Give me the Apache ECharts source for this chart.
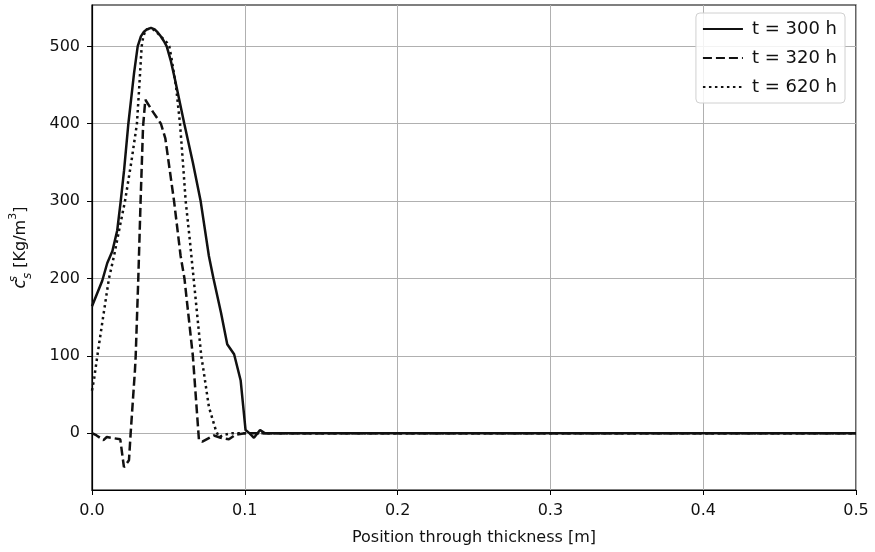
<!DOCTYPE html>
<html>
<head>
<meta charset="utf-8">
<script src="https://cdn.jsdelivr.net/npm/echarts@6/dist/echarts.min.js"></script>
<style>
  html, body { margin: 0; padding: 0; background: #fff; }
  #chart { width: 875px; height: 552px; }
</style>
</head>
<body>
<div id="chart"></div>
<script>
// legend names
const seriesNames = ["t = 300 h", "t = 320 h", "t = 620 h"];

// t = 300 h  (position [m], concentration [Kg/m3])
const pos300 = [0, 0.0067, 0.010, 0.0133, 0.0165, 0.0188, 0.021, 0.0238, 0.0255, 0.0275, 0.0299, 0.032,
  0.034, 0.036, 0.0386, 0.041, 0.043, 0.045, 0.047, 0.0489, 0.0515, 0.054, 0.057, 0.0604, 0.066,
  0.0711, 0.0765, 0.0795, 0.0845, 0.0885, 0.093, 0.0973, 0.1005, 0.103, 0.106, 0.110, 0.113, 0.12, 0.5];
const val300 = [164, 197, 220, 235, 262, 300, 340, 400, 430, 465, 500, 513,
  519, 522, 524, 522, 518, 513, 507, 500, 482, 460, 432, 400, 350,
  300, 229, 200, 155, 115, 102, 68, 4, 0, -6, 4, 0, 0, 0];

// t = 320 h
const pos320 = [0, 0.003, 0.0075, 0.0097, 0.0185, 0.0209, 0.0242, 0.0253, 0.0281, 0.0286, 0.0303, 0.0318,
  0.0334, 0.0349, 0.040, 0.0451, 0.048, 0.0537, 0.058, 0.0605, 0.066, 0.070, 0.0722, 0.0798, 0.0842,
  0.0896, 0.094, 0.1, 0.5];
const val320 = [0, -3, -9, -5, -8, -44, -35, 0, 81, 100, 200, 300,
  396, 431, 415, 400, 381, 300, 229, 200, 100, -9, -11, -3, -6,
  -8, -2, 0, 0];

// t = 620 h
const pos620 = [0, 0.0015, 0.0035, 0.0065, 0.0111, 0.0144, 0.018, 0.0216, 0.0257, 0.0294, 0.031, 0.0325,
  0.0335, 0.0345, 0.036, 0.038, 0.040, 0.043, 0.046, 0.049, 0.0506, 0.052, 0.055, 0.0576, 0.0595,
  0.0613, 0.064, 0.0665, 0.069, 0.0715, 0.0733, 0.0765, 0.081, 0.083, 0.087, 0.092, 0.1, 0.5];
const val620 = [55, 72, 100, 140, 200, 229, 265, 300, 350, 400, 450, 500,
  512, 518, 522, 523, 522, 517, 511, 505, 500, 485, 448, 400, 350,
  300, 250, 200, 150, 100, 77, 34, 4, -5, -2, 0, 0, 0];

// axis ticks
const xTicks = [0, 0.1, 0.2, 0.3, 0.4, 0.5];
const yTicks = [0, 100, 200, 300, 400, 500];

const zip = (xs, ys) => xs.map((x, i) => [x, ys[i]]);

const lineColor = "#111";
const font = "DejaVu Sans";

function initChart() {
  const chart = echarts.init(document.getElementById("chart"), null, { renderer: "canvas" });
  const option = {
    animation: false,
    backgroundColor: "#fff",
    grid: {
      left: 91,
      right: 19,
      top: 5,
      bottom: 62,
      show: true,
      borderColor: "#000",
      borderWidth: 1.2,
      backgroundColor: "transparent"
    },
    legend: {
      data: seriesNames,
      orient: "vertical",
      right: 30,
      top: 13,
      itemWidth: 40,
      itemHeight: 14,
      itemGap: 11,
      padding: [7, 8, 7, 6],
      backgroundColor: "rgba(255,255,255,0.85)",
      borderColor: "#d0d0d0",
      borderWidth: 1,
      borderRadius: 4,
      // hide the symbol drawn in the middle of line legend icons
      itemStyle: { color: "rgba(0,0,0,0)", borderColor: "rgba(0,0,0,0)", borderWidth: 0 },
      textStyle: { fontFamily: font, fontSize: 18, color: "#111", padding: [0, 0, 0, 4] }
    },
    xAxis: {
      type: "value",
      min: 0,
      max: 0.5,
      interval: 0.1,
      name: "Position through thickness [m]",
      nameLocation: "middle",
      nameGap: 40,
      nameTextStyle: { fontFamily: font, fontSize: 16, color: "#111" },
      axisLine: { show: true, onZero: false, lineStyle: { color: "#000", width: 1.2 } },
      axisTick: { show: true, length: 5, lineStyle: { color: "#000" } },
      axisLabel: {
        fontFamily: font,
        fontSize: 16,
        color: "#111",
        margin: 13,
        formatter: v => v.toFixed(1)
      },
      splitLine: { show: true, lineStyle: { color: "#b0b0b0", width: 1 } }
    },
    yAxis: {
      type: "value",
      min: -73.5,
      max: 553.5,
      name: "{c|c}{sup|s}{sub|s}{n| [Kg/m}{p|3}{n|]}",
      nameLocation: "middle",
      nameRotate: 90,
      nameGap: 58,
      nameTextStyle: {
        fontFamily: font,
        fontSize: 16,
        color: "#111",
        rich: {
          c: { fontFamily: font, fontSize: 17, fontStyle: "italic", color: "#111", lineHeight: 26 },
          sup: { fontFamily: font, fontSize: 12, fontStyle: "italic", color: "#111", verticalAlign: "top", width: 0, lineHeight: 26 },
          sub: { fontFamily: font, fontSize: 12, fontStyle: "italic", color: "#111", verticalAlign: "bottom", lineHeight: 26 },
          n: { fontFamily: font, fontSize: 16, color: "#111", lineHeight: 26 },
          p: { fontFamily: font, fontSize: 11, color: "#111", verticalAlign: "top", lineHeight: 26 }
        }
      },
      axisLine: { show: true, onZero: false, lineStyle: { color: "#000", width: 1.2 } },
      axisTick: { show: true, length: 5, customValues: yTicks, lineStyle: { color: "#000" } },
      axisLabel: {
        fontFamily: font,
        fontSize: 16,
        color: "#111",
        margin: 12,
        customValues: yTicks
      },
      splitLine: { show: true, lineStyle: { color: "#b0b0b0", width: 1 } }
    },
    series: [
      {
        name: seriesNames[0],
        type: "line",
        symbol: "none",
        data: zip(pos300, val300),
        lineStyle: { color: lineColor, width: 2.5, type: "solid" },
        itemStyle: { color: lineColor }
      },
      {
        name: seriesNames[1],
        type: "line",
        symbol: "none",
        data: zip(pos320, val320),
        lineStyle: { color: lineColor, width: 2.5, type: [9, 4] },
        itemStyle: { color: lineColor }
      },
      {
        name: seriesNames[2],
        type: "line",
        symbol: "none",
        data: zip(pos620, val620),
        lineStyle: { color: lineColor, width: 2.5, type: [2.5, 3.5] },
        itemStyle: { color: lineColor }
      }
    ]
  };
  chart.setOption(option);
  return chart;
}

initChart();
</script>
</body>
</html>
